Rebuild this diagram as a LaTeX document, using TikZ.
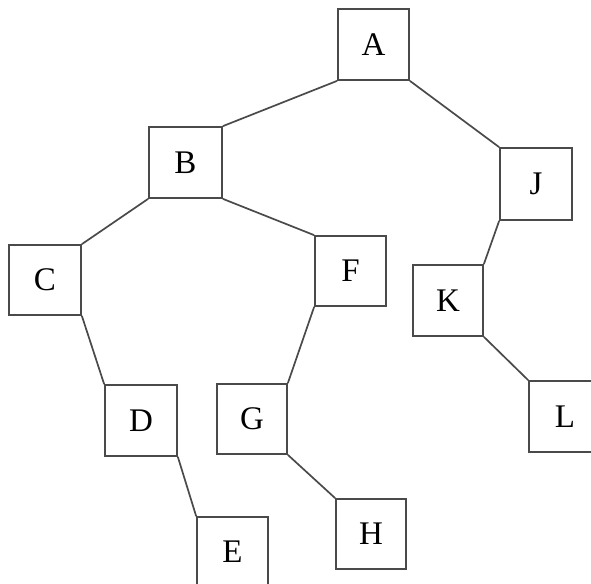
\documentclass[tikz,border=0pt]{standalone}
\usepackage{fontspec}
\setmainfont{Liberation Serif}
\begin{document}
\begin{tikzpicture}[x=1pt,y=1pt,
  bx/.style={draw=linegray, line width=1.7pt, rectangle, inner sep=0pt, font=\fontsize{33}{33}\selectfont, text=black},
  conn/.style={draw=linegray, line width=1.7pt}]
\definecolor{linegray}{HTML}{4A4A4A}
\useasboundingbox (0,0) rectangle (591,-583);
\fill[white] (0,0) rectangle (591,-583);
\clip (0,0) rectangle (591,-583);
\node[bx, minimum width=71pt, minimum height=71pt] (A) at (373.5,-44.5) {A};
\node[bx, minimum width=73pt, minimum height=71pt] (B) at (185.5,-162.5) {B};
\node[bx, minimum width=72pt, minimum height=72pt] (J) at (536,-184) {J};
\node[bx, minimum width=70pt, minimum height=71pt] (K) at (448,-300.5) {K};
\node[bx, minimum width=72pt, minimum height=70pt] (C) at (45,-280) {C};
\node[bx, minimum width=71pt, minimum height=70pt] (F) at (350.5,-271) {F};
\node[bx, minimum width=72pt, minimum height=71pt] (D) at (141,-420.5) {D};
\node[bx, minimum width=70pt, minimum height=70pt] (G) at (252,-419) {G};
\node[bx, minimum width=71pt, minimum height=70pt] (E) at (232.5,-552) {E};
\node[bx, minimum width=70pt, minimum height=70pt] (H) at (371,-534) {H};
\node[bx, minimum width=72pt, minimum height=71pt] (L) at (565,-416.5) {L};
\draw[conn] (A.south west) -- (B.north east);
\draw[conn] (A.south east) -- (J.north west);
\draw[conn] (B.south west) -- (C.north east);
\draw[conn] (B.south east) -- (F.north west);
\draw[conn] (C.south east) -- (D.north west);
\draw[conn] (D.south east) -- (E.north west);
\draw[conn] (F.south west) -- (G.north east);
\draw[conn] (G.south east) -- (H.north west);
\draw[conn] (J.south west) -- (K.north east);
\draw[conn] (K.south east) -- (L.north west);
\end{tikzpicture}
\end{document}
